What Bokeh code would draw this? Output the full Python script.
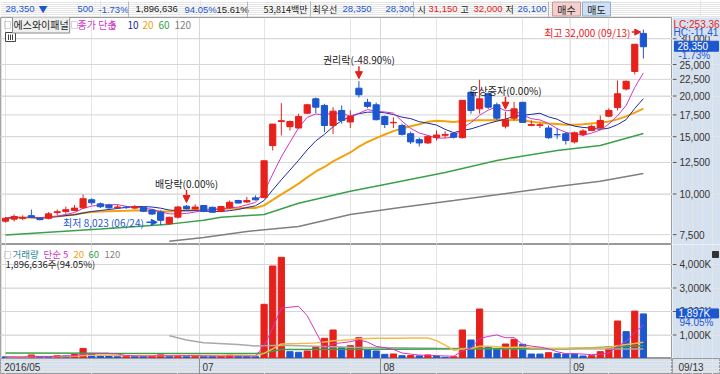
import pandas as pd
from bokeh.plotting import figure
from bokeh.layouts import column, row
from bokeh.models import (Range1d, Label, Arrow, NormalHead, Span, ColumnDataSource)
from bokeh.embed import file_html
from bokeh.resources import INLINE
from bokeh.core.properties import value

# ---------------- data ----------------
opens = [8250, 8370, 8420, 8580, 8420, 8420, 8770, 8830, 8900, 9070,
         9600, 9330, 9250, 9080, 9110, 9050, 9100, 8930, 8800, 8100,
         8490, 9170, 9000, 9220, 9100, 8840, 9070, 9550, 9450, 9730,
         9750, 14090, 16700, 16100, 15950, 17710, 19610, 18710, 16240, 18060,
         16650, 21140, 19130, 18800, 17300, 16550, 16240, 15320, 14690, 14350,
         14920, 15150, 15350, 14900, 20550, 18270, 20320, 18800, 16160, 17100,
         19130, 16250, 16250, 15950, 15230, 15320, 14460, 15250, 15670, 15950,
         17340, 18430, 21020, 23800, 31150]
highs = [8500, 8650, 8600, 8960, 8480, 8800, 8960, 9150, 9250, 9960,
         9700, 9420, 9330, 9250, 9200, 9250, 9150, 9000, 8900, 8520,
         9200, 9250, 9300, 9250, 9150, 9200, 9550, 9600, 9800, 9900,
         12650, 16400, 19020, 16830, 17650, 18930, 19800, 18930, 18480, 18710,
         18060, 22220, 19610, 19100, 17430, 17200, 16450, 15560, 14890, 15130,
         15670, 15600, 15500, 19400, 20800, 22440, 20550, 19100, 17900, 19200,
         19200, 16830, 16550, 16240, 15950, 15500, 15560, 15810, 16320, 17430,
         18350, 22330, 22330, 28850, 32000]
lows = [8170, 8230, 8300, 8420, 8300, 8350, 8620, 8700, 8850, 9000,
        9250, 9050, 9000, 9000, 9000, 8980, 8800, 8620, 8023, 8050,
        8400, 8950, 8950, 8800, 8750, 8800, 9000, 9350, 9380, 9550,
        9700, 13600, 15130, 15670, 15900, 17650, 17700, 15500, 15300, 16450,
        15950, 19800, 18350, 16830, 15950, 15950, 15130, 14240, 14000, 14240,
        14600, 14890, 14810, 14800, 17650, 17650, 18270, 16900, 15900, 16830,
        16550, 16160, 15950, 14780, 14780, 14190, 14300, 15060, 15600, 15840,
        17220, 18060, 20800, 23300, 26100]
closes = [8420, 8530, 8450, 8470, 8340, 8690, 8820, 8950, 9050, 9670,
          9400, 9140, 9070, 9120, 9080, 9140, 8850, 8680, 8300, 8480,
          9120, 9000, 9120, 8840, 8790, 9150, 9430, 9380, 9550, 9600,
          12650, 16400, 16800, 16700, 17300, 18800, 18480, 16240, 17970, 16830,
          17300, 20180, 18590, 16920, 16350, 16600, 15250, 14460, 14350, 15030,
          15180, 15250, 14950, 19400, 18060, 19610, 18480, 17100, 16900, 18270,
          16600, 16350, 16320, 14890, 15200, 14600, 15420, 15620, 16130, 16830,
          18060, 20320, 22200, 28850, 28350]
volumes_k = [70, 60, 55, 150, 80, 75, 120, 110, 170, 430,
             190, 130, 110, 90, 120, 100, 90, 120, 160, 100,
             130, 90, 120, 100, 80, 90, 140, 100, 90, 80,
             2306, 3936, 4306, 290, 264, 319, 476, 860, 1213, 476,
             546, 886, 362, 319, 178, 192, 120, 125, 110, 150,
             106, 50, 77, 1213, 787, 2106, 503, 404, 617, 816,
             603, 191, 190, 248, 205, 191, 191, 106, 120, 290,
             476, 1596, 1142, 2017, 1896.636]

# long moving averages (need history before the window)
ma60_idx = [0, 11, 19, 23, 25, 30, 34, 40, 44, 51, 57, 64, 69, 74]
ma60_val = [7480, 7800, 8080, 8300, 8480, 8650, 9370, 10200, 10700, 11640, 12680, 13600, 14090, 15340]
ma120_idx = [19, 23, 28, 34, 40, 46, 52, 57, 64, 69, 74]
ma120_val = [7160, 7350, 7670, 7950, 8650, 9100, 9550, 9950, 10550, 10950, 11560]
vma60_idx = [0, 12, 29, 30, 31, 32, 45, 55, 65, 74]
vma60_k = [230, 220, 210, 245, 310, 380, 390, 410, 420, 540]
vma120_idx = [19, 21, 23, 27, 29, 32, 40, 50, 60, 74]
vma120_k = [970, 790, 670, 600, 530, 560, 480, 440, 420, 400]

price_ticks = [7500, 10000, 12500, 15000, 17500, 20000, 22500, 25000, 30000]
vol_ticks = [1000000, 2000000, 3000000, 4000000]
month_labels = ["2016/05", "07", "08", "09"]
month_start = [0, 23, 44, 66]
last_date = "09/13"
event_idx = [21, 41, 58]
event_text = ["배당락(0.00%)", "권리락(-48.90%)", "유상증자(0.00%)"]
hi_text = "최고 32,000 (09/13)"
lo_text = "최저 8,023 (06/24)"
last_change = "-1.73%"
vol_ratio = "94.05%"

# ---------------- styling / layout ----------------
RED = "#e6211c"; BLUE = "#1d57cf"; NAVY = "#1b2c9a"; MAG = "#d236c4"; ORG = "#f2a20c"
GRN = "#3aa14a"; GRY = "#7f7f7f"; AXBG = "#d6e1ef"; GRID = "#d6d6d6"; EDGE = "#9a9a9a"
KF = "Noto Sans CJK KR"; NF = "Liberation Sans"; TXT = "#222222"

PW, AXW = 672, 48
H_HEAD, H_PRICE, H_VOL, H_DATE = 17, 227, 114, 16
Y_PT, Y_PB, Y_VB = 17, 244, 358
STEP, X0 = 8.62, 5.0


def xi(X):
    return (X - X0) / STEP


def yp(Y):
    return 10 ** (4 + (193.5 - Y) / 325.4)


def yv(Y):
    return (Y_VB - Y) / 23.5 * 1e6


def up(pr, px):
    return pr * 10 ** (px / 325.4)


n = len(closes)
idx = list(range(n))
ccol = [RED if c >= o else BLUE for o, c in zip(opens, closes)]
src = ColumnDataSource(dict(i=idx, o=opens, h=highs, l=lows, c=closes, col=ccol,
                            top=[max(o, c) for o, c in zip(opens, closes)],
                            bot=[min(o, c) for o, c in zip(opens, closes)]))
cs = pd.Series(closes, dtype=float)
ma5 = cs.rolling(5, min_periods=1).mean()
ma10 = cs.rolling(10, min_periods=1).mean()
ma20 = cs.rolling(20, min_periods=1).mean()
vols = [v * 1000 for v in volumes_k]
vs = pd.Series(vols, dtype=float)
vma5 = vs.rolling(5, min_periods=1).mean()
vma20 = vs.rolling(20, min_periods=1).mean()
vcol = [BLUE] + [RED if vols[k] > vols[k - 1] else BLUE for k in range(1, n)]
vsrc = ColumnDataSource(dict(i=idx, v=vols, col=vcol))

xr = Range1d(xi(0), xi(PW))
pyr = Range1d(yp(Y_PB), yp(Y_PT))
vyr = Range1d(0, yv(Y_PB))


def fig(w, h, xrng, yrng, ylog=False, bg="white", outline=EDGE):
    f = figure(width=w, height=h, x_range=xrng, y_range=yrng,
               y_axis_type="log" if ylog else "linear",
               x_axis_location=None, y_axis_location=None, toolbar_location=None,
               output_backend="svg", min_border=0, background_fill_color=bg,
               border_fill_color=bg, outline_line_color=outline)
    return f


def lab(f, x, y, text, color=TXT, size="10px", align="left", font=KF, **kw):
    f.add_layout(Label(x=x, y=y, text=text, text_color=color, text_font=font,
                       text_font_size=size, text_align=align, text_baseline="middle", **kw))


# ---------------- header strip ----------------
hd = fig(PW + AXW, H_HEAD, Range1d(0, 720), Range1d(17, 0), outline=None)
hx_n = [5, 77, 98, 135, 184, 216, 342, 385, 428, 473, 517]
ht_n = ["28,350", "500", "-1.73%", "1,896,636", "94.05%", "15.61%", "28,350", "28,300",
        "31,150", "32,000", "26,100"]
hc_n = [BLUE, BLUE, BLUE, TXT, BLUE, TXT, BLUE, BLUE, RED, RED, BLUE]
hd.text(x=hx_n, y=[8.5] * len(hx_n), text=ht_n, text_color=hc_n,
        text_font=value(NF), text_font_size="9.5px", text_baseline="middle")
hx_k = [38, 263, 312, 417, 460, 505]
ht_k = ["▼", "53,814백만", "최우선", "시", "고", "저"]
hc_k = [BLUE, TXT, TXT, TXT, TXT, TXT]
hd.text(x=hx_k, y=[8.5] * len(hx_k), text=ht_k, text_color=hc_k,
        text_font=value(KF), text_font_size="9px", text_baseline="middle")
sep = [128, 247, 310, 413, 548]
hd.segment(x0=sep, y0=[1] * len(sep), x1=sep, y1=[16.5] * len(sep), line_color="#b8b8b8")
hd.quad(left=[552, 582], right=[580, 610], top=[1.5, 1.5], bottom=[15.5, 15.5],
        fill_color=["#f4cfcd", "#cfe0f5"], line_color=["#c59a98", "#93acd0"])
hd.text(x=[566, 596], y=[8.5, 8.5], text=["매수", "매도"], text_color=TXT,
        text_font=value(KF), text_font_size="10px", text_align="center", text_baseline="middle")

# ---------------- price panel ----------------
p = fig(PW, H_PRICE, xr, pyr, ylog=True)
for t in price_ticks:
    p.add_layout(Span(location=t, dimension="width", line_color=GRID, line_width=1, level="underlay"))
grid_x = [m - 0.5 for m in month_start]
for gx in grid_x:
    p.add_layout(Span(location=gx, dimension="height", line_color=GRID, line_width=1, level="underlay"))

p.line(ma120_idx, ma120_val, line_color=GRY, line_width=1.5)
p.line(ma60_idx, ma60_val, line_color=GRN, line_width=1.5)
p.line(idx, ma20.tolist(), line_color=ORG, line_width=2)
p.line(idx, ma10.tolist(), line_color=NAVY, line_width=1)
p.line(idx, ma5.tolist(), line_color=MAG, line_width=1)
p.segment(x0="i", y0="l", x1="i", y1="h", line_color="col", line_width=1, source=src)
p.vbar(x="i", width=0.72, top="top", bottom="bot", fill_color="col", line_color="col",
       line_width=1, source=src)

# legend row
LY = yp(24)
lab(p, xi(3), LY, "□", "#555555", "8px")
lab(p, xi(12), LY, "에스와이패널", TXT, "10px", background_fill_color="#efefef",
    border_line_color="#8a8a8a", padding=1)
lab(p, xi(70), LY, "□", "#555555", "8px")
lab(p, xi(77), LY, "종가 단순", MAG)
lab(p, xi(110), LY, "5", MAG)
lab(p, xi(127), LY, "10", NAVY)
lab(p, xi(142), LY, "20", ORG)
lab(p, xi(158), LY, "60", GRN)
lab(p, xi(174), LY, "120", GRY)
p.quad(left=[xi(5)], right=[xi(15)], top=[yp(32)], bottom=[yp(41)], fill_color="white",
       line_color="#444444")
p.segment(x0=[xi(8), xi(10), xi(12)], y0=[yp(34)] * 3, x1=[xi(8), xi(10), xi(12)],
          y1=[yp(39.5)] * 3, line_color="#444444")

# high / low markers
imax = max(idx, key=lambda k: highs[k])
imin = min(idx, key=lambda k: lows[k])
yh = up(highs[imax], -2.5)
p.add_layout(Arrow(end=NormalHead(size=6, fill_color=RED, line_color=RED),
                   x_start=imax - 1.35, y_start=yh, x_end=imax - 0.3, y_end=yh,
                   line_color=RED, line_width=1.5))
lab(p, imax - 1.5, yh, hi_text, RED, align="right")
yl = up(lows[imin], 2.8)
p.add_layout(Arrow(end=NormalHead(size=6, fill_color=BLUE, line_color=BLUE),
                   x_start=imin - 1.65, y_start=yl, x_end=imin - 0.4, y_end=yl,
                   line_color=BLUE, line_width=1.5))
lab(p, imin - 1.95, yl, lo_text, BLUE, align="right")

# corporate events
for ei, et in zip(event_idx, event_text):
    hh = highs[ei]
    p.add_layout(Arrow(end=NormalHead(size=7, fill_color=RED, line_color=RED),
                       x_start=ei, y_start=up(hh, 15), x_end=ei, y_end=up(hh, 2.5),
                       line_color=RED, line_width=1.5))
    lab(p, ei, up(hh, 21.5), et, TXT, align="center")

# price axis panel (right)
pa = fig(AXW, H_PRICE, Range1d(0, AXW), pyr, ylog=True, bg=AXBG, outline=None)
pa.segment(x0=[0] * len(price_ticks), y0=price_ticks, x1=[4] * len(price_ticks), y1=price_ticks,
           line_color="#555555")
pa.text(x=[7] * len(price_ticks), y=price_ticks, text=[f"{t:,}" for t in price_ticks],
        text_color="#333333", text_font=value(NF), text_font_size="10px", text_baseline="middle")
pa.quad(left=[1], right=[AXW], top=[yp(20)], bottom=[yp(35.5)], fill_color=AXBG, line_color=None)
pa.text(x=[1, 1], y=[yp(23.5), yp(31.5)], text=["LC:253.36", "HC:-11.41"], text_color=[RED, BLUE],
        text_font=value(NF), text_font_size="10px", text_baseline="middle")
lc = closes[-1]
pa.quad(left=[2], right=[46], top=[up(lc, 5.5)], bottom=[up(lc, -4.5)], fill_color=BLUE,
        line_color=BLUE)
pa.text(x=[5], y=[up(lc, 0.5)], text=[f"{lc:,}"], text_color="white", text_font=value(NF),
        text_font_size="10px", text_baseline="middle")
pa.text(x=[6], y=[up(lc, -9)], text=[last_change], text_color=BLUE, text_font=value(NF),
        text_font_size="10px", text_baseline="middle")

# ---------------- volume panel ----------------
pv = fig(PW, H_VOL, xr, vyr)
for t in vol_ticks:
    pv.add_layout(Span(location=t, dimension="width", line_color=GRID, line_width=1, level="underlay"))
for gx in grid_x:
    pv.add_layout(Span(location=gx, dimension="height", line_color=GRID, line_width=1, level="underlay"))

pv.vbar(x="i", width=0.72, top="v", bottom=0, fill_color="col", line_color="col", source=vsrc)
pv.line(vma120_idx, [v * 1000 for v in vma120_k], line_color="#a9a9a9", line_width=1.5)
pv.line(vma60_idx, [v * 1000 for v in vma60_k], line_color=GRN, line_width=1.5)
pv.line(idx, vma20.tolist(), line_color="#f5b947", line_width=1.5)
pv.line(idx, vma5.tolist(), line_color=MAG, line_width=1)

VLY = yv(253.5)
lab(pv, xi(3), VLY, "□", "#555555", "8px")
lab(pv, xi(12), VLY, "거래량", "#2a8a96", "9.5px")
lab(pv, xi(43), VLY, "단순 5", MAG, "9.5px")
lab(pv, xi(73), VLY, "20", ORG, "9.5px")
lab(pv, xi(88), VLY, "60", GRN, "9.5px")
lab(pv, xi(104), VLY, "120", GRY, "9.5px")
lab(pv, xi(5), yv(263.5), f"{int(vols[-1]):,}주({vol_ratio})", TXT, "9.5px")

pva = fig(AXW, H_VOL, Range1d(0, AXW), vyr, bg=AXBG, outline=None)
pva.segment(x0=[0] * len(vol_ticks), y0=vol_ticks, x1=[4] * len(vol_ticks), y1=vol_ticks,
            line_color="#555555")
pva.text(x=[7] * len(vol_ticks), y=vol_ticks, text=[f"{t // 1000:,}K" for t in vol_ticks],
         text_color="#333333", text_font=value(NF), text_font_size="10px", text_baseline="middle")
lv = vols[-1]
pv_px = 1e6 / 23.5
pva.quad(left=[4], right=[46], top=[lv + 5 * pv_px], bottom=[lv - 4 * pv_px], fill_color=BLUE,
         line_color=BLUE)
pva.text(x=[6], y=[lv + 0.5 * pv_px], text=[f"{round(lv / 1000):,}K"], text_color="white",
         text_font=value(NF), text_font_size="10px", text_baseline="middle")
pva.text(x=[7], y=[lv - 9 * pv_px], text=[vol_ratio], text_color=BLUE, text_font=value(NF),
         text_font_size="10px", text_baseline="middle")
pva.quad(left=[40], right=[46], top=[yv(251)], bottom=[yv(257)], fill_color="#333333",
         line_color="#333333")

# ---------------- date strip ----------------
dt = fig(PW, H_DATE, xr, Range1d(0, 1), bg=AXBG)
for k, (ms, ml) in enumerate(zip(month_start, month_labels)):
    if k > 0:
        dt.add_layout(Span(location=ms - 0.5, dimension="height", line_color="#8c8c8c", line_width=1))
    lab(dt, ms - 0.5 + 0.35, 0.45, ml, "#333333", "10px", font=NF)
dta = fig(AXW, H_DATE, Range1d(0, AXW), Range1d(0, 1), bg=AXBG, outline=EDGE)
dta.text(x=[6], y=[0.45], text=[last_date], text_color="#333333", text_font=value(NF),
         text_font_size="10px", text_baseline="middle")

layout = column(hd, row(p, pa, spacing=0), row(pv, pva, spacing=0), row(dt, dta, spacing=0),
                spacing=0)
open("out.html", "w").write(file_html(layout, INLINE, "chart"))
